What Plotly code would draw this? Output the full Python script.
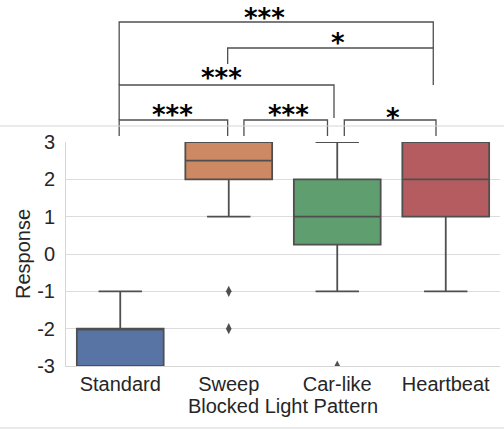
import plotly.graph_objects as go

# Response distribution per blocked-light pattern (Likert scale -3..3)
categories = ["Standard", "Sweep", "Car-like", "Heartbeat"]
q1 = [-3, 2, 0.25, 1]
median = [-2, 2.5, 1, 2]
q3 = [-2, 3, 2, 3]
lower_fence = [-3, 1, -1, -1]
upper_fence = [-1, 3, 3, 3]
outlier_cat = ["Sweep", "Sweep", "Car-like"]
outlier_val = [-1, -2, -3]

colors = ["#5874a4", "#cc8963", "#5f9e6e", "#b45c5f"]
y_ticks = [-3, -2, -1, 0, 1, 2, 3]
y_min, y_max = -3, 3

# Pairwise significance: (left x, right x, top level, left leg end, right leg end, label, label x, label y)
# x in category units, y levels in response units above the axis range
brackets = [
    (-0.01, 0.99, 3.589, 3.161, 3.161, "***", 0.48, 3.71),
    (1.14, 1.91, 3.589, 3.161, 3.161, "***", 1.55, 3.71),
    (2.065, 2.91, 3.589, 3.161, 3.161, "*", 2.515, 3.643),
    (-0.01, 1.97, 4.527, 3.589, 3.643, "***", 0.935, 4.714),
    (0.99, 2.885, 5.518, 5.089, 4.527, "*", 2.01, 5.665),
    (-0.01, 2.885, 6.214, 4.527, 5.518, "***", 1.33, 6.32),
]

LINE = "#4f4f4f"

fig = go.Figure()
for i, cat in enumerate(categories):
    fig.add_trace(go.Box(
        x=[cat], q1=[q1[i]], median=[median[i]], q3=[q3[i]],
        lowerfence=[lower_fence[i]], upperfence=[upper_fence[i]],
        fillcolor=colors[i], line=dict(color=LINE, width=1.8),
        width=0.8, whiskerwidth=0.5, boxpoints=False,
        showlegend=False, hoverinfo="skip",
    ))

fig.add_trace(go.Scatter(
    x=outlier_cat, y=outlier_val, mode="markers",
    marker=dict(symbol="diamond-tall", size=8, color=LINE),
    showlegend=False, hoverinfo="skip",
))


def to_paper(v):
    return (v - y_min) / (y_max - y_min)


shapes = []
annotations = []
for x1, x2, top, l_end, r_end, label, lx, ly in brackets:
    path = (f"M {x1},{to_paper(l_end)} L {x1},{to_paper(top)} "
            f"L {x2},{to_paper(top)} L {x2},{to_paper(r_end)}")
    shapes.append(dict(type="path", path=path, xref="x", yref="paper",
                       line=dict(color=LINE, width=1.3), layer="above"))
    annotations.append(dict(x=lx, y=to_paper(ly), xref="x", yref="paper",
                            text=f"<b>{label}</b>", showarrow=False, yanchor="middle",
                            font=dict(family="DejaVu Sans", size=26, color="black")))

# thin separator rules above and below the panel
for yp in (1.0714, -0.2768):
    shapes.append(dict(type="line", xref="paper", yref="paper",
                       x0=-0.155, x1=1.01, y0=yp, y1=yp,
                       line=dict(color="#d6d6d6", width=1.2)))

fig.update_layout(
    width=504, height=429,
    margin=dict(l=66, r=4, t=142, b=63),
    paper_bgcolor="white", plot_bgcolor="white",
    boxmode="overlay",
    font=dict(family="Liberation Sans", size=20, color="#262626"),
    shapes=shapes, annotations=annotations,
    xaxis=dict(
        categoryorder="array", categoryarray=categories,
        range=[-0.5, 3.5], showgrid=False, showline=True,
        linecolor="#d6d6d6", linewidth=1, ticks="", zeroline=False,
        title=dict(text="Blocked Light Pattern", standoff=4,
                   font=dict(size=20, color="#262626")),
        tickfont=dict(size=20),
    ),
    yaxis=dict(
        range=[y_min, y_max], tickvals=y_ticks,
        ticktext=[str(t) for t in y_ticks],
        showgrid=True, gridcolor="#dcdcdc", gridwidth=1,
        showline=True, linecolor="#d6d6d6", linewidth=1,
        zeroline=False, ticks="", ticklabelstandoff=6,
        title=dict(text="Response", standoff=1,
                   font=dict(size=20, color="#262626")),
        tickfont=dict(size=20),
    ),
)

fig.write_html("out.html")
